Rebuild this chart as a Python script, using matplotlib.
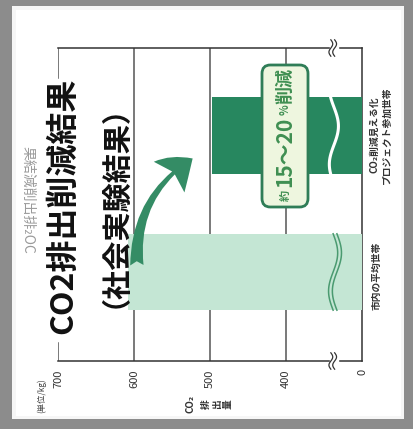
import matplotlib
matplotlib.use("Agg")
import matplotlib.pyplot as plt
from matplotlib.patches import Rectangle, FancyBboxPatch, FancyArrowPatch
import numpy as np

plt.rcParams['font.family'] = ['Noto Sans CJK JP', 'DejaVu Sans']

# data (kg)
categories = ['市内の平均世帯', 'CO₂削減見える化\nプロジェクト参加世帯']
values = [608, 497]
bar_colors = ['#c4e6d4', '#27875f']
tick_vals = [700, 600, 500, 400, 300]
tick_labels = ['700', '600', '500', '400', '0']
base = 300  # axis is broken, 300 on the scale stands for 0

W, H = 414, 429
fig = plt.figure(figsize=(W / 100, H / 100), dpi=100, facecolor='#8c8c8c')

def fx(px):
    return px / W

def fy(py):
    return 1 - py / H

# scanned page frame
fig.patches.append(Rectangle((fx(12), fy(419)), fx(392), 413 / H, transform=fig.transFigure,
                             facecolor='#f6f6f6', edgecolor='none', zorder=-2))
fig.patches.append(Rectangle((fx(16), fy(416)), fx(385), 406 / H, transform=fig.transFigure,
                             facecolor='white', edgecolor='none', zorder=-1))

ax = fig.add_axes([fx(58), fy(361), fx(304), 313 / H])
ax.set_facecolor('none')

y_pos = [0, 1]
ax.barh(y_pos, [v - base for v in values], left=base, height=0.56, color=bar_colors, zorder=3)

ax.set_xlim(700, 300)
ax.set_ylim(-0.652, 1.641)
ax.set_xticks(tick_vals)
ax.set_xticklabels(tick_labels, rotation=90, fontsize=8, color='#333333')
ax.tick_params(axis='x', length=0, pad=6)
ax.set_yticks([])

for v in tick_vals[1:4]:
    ax.axvline(v, color='#555555', lw=1.1, zorder=1)
ax.plot([700, 700], [1.641, 1.42], color='#555555', lw=1.1, zorder=1)
ax.plot([700, 700], [-0.652, -0.52], color='#555555', lw=1.1, zorder=1)

for s in ['top', 'bottom', 'right']:
    ax.spines[s].set_color('#333333')
    ax.spines[s].set_linewidth(1.1)
ax.spines['left'].set_visible(False)

# break marks on the axis lines
t = np.linspace(0, 1, 40)
for yb in [1.641, -0.652]:
    ax.fill_between([331, 342], yb - 0.03, yb + 0.03, color='white', zorder=5, clip_on=False)
    for off in [0, 5]:
        ax.plot(341 - off + 2.5 * np.sin(2 * np.pi * t), yb - 0.06 + 0.12 * t, color='#333333',
                lw=0.9, zorder=6, clip_on=False)

# wavy breaks in the bars
ax.plot(337 + 6 * np.sin(2 * np.pi * t + 0.8), 0.72 + 0.56 * t, color='white', lw=2.2, zorder=4)
for off in [0, 5]:
    ax.plot(338 - off + 6 * np.sin(2 * np.pi * t), -0.28 + 0.56 * t, color='#4a9a70', lw=1.1, zorder=4)

# category labels on the right
fig.text(fx(381), fy(135), categories[1], rotation=90, fontsize=7, fontweight='bold',
         ha='center', va='center', color='#333333', linespacing=1.3)
fig.text(fx(377), fy(276), categories[0], rotation=90, fontsize=7, fontweight='bold',
         ha='center', va='center', color='#333333')

# title
fig.text(fx(63), fy(206), 'CO2排出削減結果', rotation=90, fontsize=23, fontweight='bold',
         ha='center', va='center', color='#111111')
fig.text(fx(100), fy(191), '（社会実験結果）', rotation=90, fontsize=21, fontweight='bold',
         ha='center', va='center', color='#111111')

# show-through from the back of the page
fig.text(fx(28), fy(200), '果結減削出排₂OC', rotation=270, fontsize=10,
         ha='center', va='center', color='#9a9a9a')

# axis labels
fig.text(fx(42), fy(396), '(単位/kg)', rotation=90, fontsize=6, ha='center', va='center',
         color='#444444')
for s, px in [('CO₂', 191), ('排', 206), ('出', 217), ('量', 228)]:
    fig.text(fx(px), fy(404), s, rotation=90, fontsize=7, fontweight='bold',
             ha='center', va='center', color='#333333')

# reduction box
fig.patches.append(FancyBboxPatch((fx(262), fy(207)), fx(46), 142 / H,
                                  boxstyle='round,pad=0,rounding_size=0.02',
                                  transform=fig.transFigure, facecolor='#eef6df',
                                  edgecolor='#2f7d57', lw=2, zorder=10))
box_parts = [('約', 8, 195), ('15～20', 15, 152), ('%', 8, 110), ('削減', 13, 86)]
for s, fs, py in box_parts:
    fig.text(fx(285), fy(py), s, rotation=90, fontsize=fs, fontweight='bold',
             ha='center', va='center', color='#3f8f52', zorder=11)

# arrow
arr = FancyArrowPatch((fx(137), fy(268)), (fx(195), fy(157)), transform=fig.transFigure,
                      connectionstyle='arc3,rad=-0.3',
                      arrowstyle='fancy,head_length=1.8,head_width=2.6,tail_width=0.8',
                      mutation_scale=12, color='#348c65', lw=0, zorder=12)
fig.patches.append(arr)

fig.savefig('out.png', dpi=100, facecolor=fig.get_facecolor())
